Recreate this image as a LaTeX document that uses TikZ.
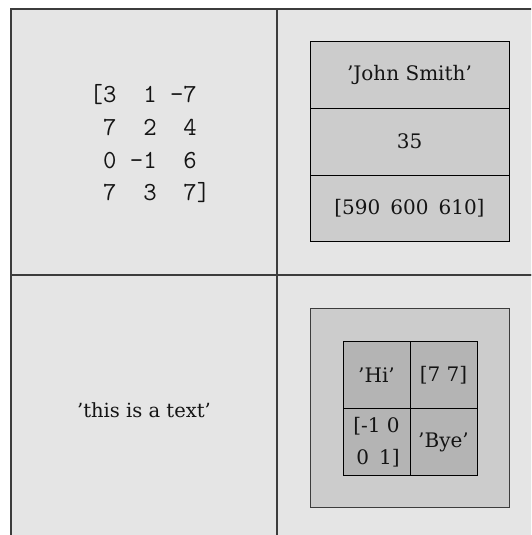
\documentclass[tikz,border=0pt]{standalone}
\usepackage{fontspec}
\setmainfont{DejaVu Serif}
\usetikzlibrary{positioning}
\definecolor{panel}{RGB}{229,229,229}
\definecolor{shell}{RGB}{204,204,204}
\definecolor{cellgray}{RGB}{180,180,180}
\definecolor{rule}{RGB}{60,60,60}
\definecolor{ink}{RGB}{20,20,20}
\tikzset{
  quad/.style={draw=rule,fill=panel,line width=1.4pt,minimum size=266pt,inner sep=0pt,outer sep=0pt},
  field/.style={draw=black,fill=shell,line width=0.9pt,minimum width=199pt,minimum height=66.7pt,inner sep=0pt,outer sep=0pt,font=\fontsize{20}{24}\selectfont,text=ink},
  shellbox/.style={draw=rule,fill=shell,line width=0.9pt,minimum size=199pt,inner sep=0pt,outer sep=0pt},
  cell/.style={draw=black,fill=cellgray,line width=0.9pt,minimum size=67pt,inner sep=0pt,outer sep=0pt,font=\fontsize{20}{32}\selectfont,text=ink,align=center},
  txt/.style={font=\fontsize{19.5}{24}\selectfont,text=ink},
  mono/.style={font=\fontsize{26}{32.7}\selectfont\ttfamily,text=ink,align=left}
}

\begin{document}
\begin{tikzpicture}[x=1pt,y=-1pt]
  \useasboundingbox (0,0) rectangle (531,535);
  \clip (0,0) rectangle (531,535);
  % four quadrants
  \node[quad] (q11) at (144,142) {};
  \node[quad] (q12) at (410,142) {};
  \node[quad] (q21) at (144,408) {};
  \node[quad] (q22) at (410,408) {};

  % numeric matrix
  \node[mono] (matrix) at (150,144) {[3~~1~-7\\~7~~2~~4\\~0~-1~~6\\~7~~3~~7]};

  % struct
  \node[field] (name) at (409.5,75) {'John Smith'};
  \node[field,below=0pt of name] (age) {35};
  \node[field,below=0pt of age] (salary) {[590\enspace600\enspace610]};

  % char array
  \node[txt] (text) at (144,410) {'this is a text'};

  % nested cell array
  \node[shellbox] (nest) at (409.5,408) {};
  \node[cell] (hi) at (376.5,375) {'Hi'};
  \node[cell,right=0pt of hi] (pair) {[7 7]};
  \node[cell,below=0pt of hi,align=right] (mat) {[-1 0\\0\enspace1]};
  \node[cell,right=0pt of mat] (bye) {'Bye'};
\end{tikzpicture}
\end{document}
